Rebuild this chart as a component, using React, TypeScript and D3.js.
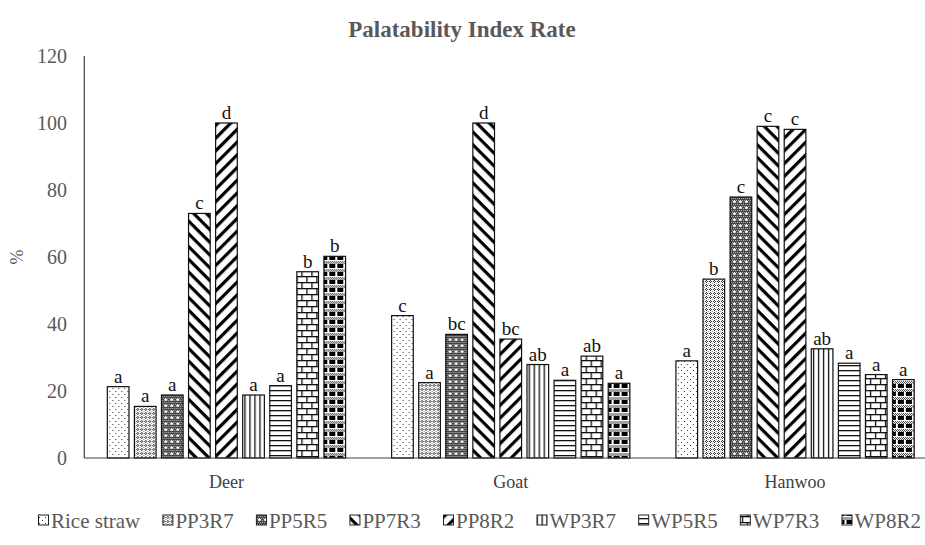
import React from "react";
import * as d3 from "d3";

const categories = ["Deer", "Goat", "Hanwoo"];
const seriesNames = ["Rice straw", "PP3R7", "PP5R5", "PP7R3", "PP8R2", "WP3R7", "WP5R5", "WP7R3", "WP8R2"];
const deerValues = [21.3, 15.4, 18.8, 73.0, 100.0, 18.8, 21.6, 55.6, 60.2];
const goatValues = [42.5, 22.5, 36.9, 100.0, 35.5, 27.9, 23.2, 30.4, 22.3];
const hanwooValues = [29.0, 53.4, 77.9, 99.0, 98.1, 32.6, 28.3, 24.9, 23.4];
const deerLetters = ["a", "a", "a", "c", "d", "a", "a", "b", "b"];
const goatLetters = ["c", "a", "bc", "d", "bc", "ab", "a", "ab", "a"];
const hanwooLetters = ["a", "b", "c", "c", "c", "ab", "a", "a", "a"];
const yTicks = [0, 20, 40, 60, 80, 100, 120];

const valuesByCat = [deerValues, goatValues, hanwooValues];
const lettersByCat = [deerLetters, goatLetters, hanwooLetters];

const W = 925;
const H = 545;
const FONT = "'Liberation Serif', 'Times New Roman', serif";
const GRAY = "#595959";

function measure(text: string, font: string): number {
  const c = document.createElement("canvas");
  const ctx = c.getContext("2d");
  if (!ctx) return text.length * 10;
  ctx.font = font;
  return ctx.measureText(text).width;
}

function Patterns() {
  return (
    <defs>
      <pattern id="p0" width="6" height="6" patternUnits="userSpaceOnUse">
        <rect width="6" height="6" fill="#fff" />
        <rect x="1" y="1" width="1" height="1" fill="#333" />
        <rect x="4" y="4" width="1" height="1" fill="#333" />
      </pattern>
      <pattern id="p1" width="4" height="4" patternUnits="userSpaceOnUse">
        <rect width="4" height="4" fill="#fff" />
        <rect x="1" y="0" width="1" height="1" fill="#222" />
        <rect x="0" y="1" width="1" height="1" fill="#222" />
        <rect x="2" y="1" width="1" height="1" fill="#222" />
        <rect x="1" y="2" width="1" height="1" fill="#222" />
        <rect x="3" y="3" width="1" height="1" fill="#888" />
      </pattern>
      <pattern id="p2" width="6" height="6" patternUnits="userSpaceOnUse">
        <rect width="6" height="6" fill="#444" />
        <rect x="0" y="0" width="1" height="1" fill="#bbb" />
        <rect x="2" y="0" width="1" height="1" fill="#bbb" />
        <rect x="4" y="0" width="1" height="1" fill="#bbb" />
        <rect x="1" y="2" width="1" height="1" fill="#bbb" />
        <rect x="5" y="2" width="1" height="1" fill="#bbb" />
        <rect x="0" y="4" width="1" height="1" fill="#bbb" />
        <rect x="2" y="4" width="1" height="1" fill="#bbb" />
        <rect x="3" y="2" width="1" height="1" fill="#fff" />
        <rect x="2" y="3" width="3" height="1" fill="#fff" />
        <rect x="3" y="4" width="1" height="1" fill="#fff" />
        <rect x="4" y="4" width="1" height="1" fill="#bbb" />
      </pattern>
      <pattern id="p3" width="9" height="9" patternUnits="userSpaceOnUse" patternTransform="rotate(45)">
        <rect width="9" height="9" fill="#fff" />
        <rect x="0" y="0" width="9" height="3.2" fill="#000" />
      </pattern>
      <pattern id="p4" width="9" height="9" patternUnits="userSpaceOnUse" patternTransform="rotate(-45)">
        <rect width="9" height="9" fill="#fff" />
        <rect x="0" y="0" width="9" height="3.2" fill="#000" />
      </pattern>
      <pattern id="p5" width="5" height="5" patternUnits="userSpaceOnUse">
        <rect width="5" height="5" fill="#fff" />
        <rect x="0" y="0" width="1.3" height="5" fill="#111" />
      </pattern>
      <pattern id="p6" width="5" height="5" patternUnits="userSpaceOnUse">
        <rect width="5" height="5" fill="#fff" />
        <rect x="0" y="0" width="5" height="1.3" fill="#111" />
      </pattern>
      <pattern id="p7" width="10" height="12" patternUnits="userSpaceOnUse">
        <rect width="10" height="12" fill="#fff" />
        <rect x="0" y="0" width="10" height="1.3" fill="#111" />
        <rect x="0" y="6" width="10" height="1.3" fill="#111" />
        <rect x="2" y="0" width="1.3" height="6" fill="#111" />
        <rect x="7" y="6" width="1.3" height="6" fill="#111" />
      </pattern>
      <pattern id="p8" width="8" height="8" patternUnits="userSpaceOnUse">
        <rect width="8" height="8" fill="#fff" />
        <rect x="0" y="0" width="3" height="4" fill="#000" />
        <rect x="5" y="0" width="3" height="4" fill="#000" />
        <rect x="0" y="5" width="1" height="1" fill="#444" />
        <rect x="2" y="5" width="1" height="1" fill="#444" />
        <rect x="4" y="5" width="1" height="1" fill="#444" />
        <rect x="6" y="5" width="1" height="1" fill="#444" />
        <rect x="1" y="6" width="1" height="1" fill="#444" />
        <rect x="3" y="6" width="1" height="1" fill="#444" />
        <rect x="5" y="6" width="1" height="1" fill="#444" />
        <rect x="7" y="6" width="1" height="1" fill="#444" />
        <rect x="0" y="7" width="1" height="1" fill="#444" />
        <rect x="2" y="7" width="1" height="1" fill="#444" />
        <rect x="4" y="7" width="1" height="1" fill="#444" />
        <rect x="6" y="7" width="1" height="1" fill="#444" />
      </pattern>
    </defs>
  );
}

export default function App() {
  const plotLeft = 84.3;
  const plotRight = 937.2;
  const plotTop = 56;
  const plotBottom = 458;

  const x0 = d3.scaleBand<string>().domain(categories).range([plotLeft, plotRight]).paddingInner(0).paddingOuter(0);
  const bw = x0.bandwidth();
  const outer = bw * 0.081;
  const x1 = d3.scaleBand<string>().domain(seriesNames).range([outer, bw - outer]).paddingInner(0.2).paddingOuter(0);
  const y = d3.scaleLinear().domain([0, 120]).range([plotBottom, plotTop]);

  const legendSize = 21;
  const legendFont = `${legendSize}px ${FONT}`;
  const boxW = 11;
  const legendLeft = 38;
  const legendRight = 921;
  const widths = seriesNames.map((s) => boxW + 2 + measure(s, legendFont));
  const totalW = d3.sum(widths);
  const gap = (legendRight - legendLeft - totalW) / (seriesNames.length - 1);
  const legendX: number[] = [];
  let acc = legendLeft;
  widths.forEach((w) => {
    legendX.push(acc);
    acc += w + gap;
  });
  const legendY = 528;

  return (
    <svg width={W} height={H} style={{ position: "fixed", left: 0, top: 0, background: "#fff" }} fontFamily={FONT}>
      <Patterns />
      <rect width={W} height={H} fill="#fff" />
      <text x={462} y={37} textAnchor="middle" fontSize={23} fontWeight="bold" fill={GRAY}>
        Palatability Index Rate
      </text>

      <line x1={plotLeft} x2={plotLeft} y1={y(120)} y2={y(0)} stroke="#404040" strokeWidth={1.2} />
      {yTicks.map((t) => (
        <text key={t} x={67} y={y(t) + 7} textAnchor="end" fontSize={20} fill={GRAY}>
          {t}
        </text>
      ))}
      <text transform={`translate(23, ${y(60)}) rotate(-90)`} textAnchor="middle" fontSize={18} fill={GRAY}>
        %
      </text>

      {categories.map((cat, ci) => (
        <g key={cat} transform={`translate(${x0(cat)},0)`}>
          {seriesNames.map((s, si) => {
            const v = valuesByCat[ci][si];
            const bx = x1(s) as number;
            return (
              <g key={s}>
                <rect
                  x={bx}
                  y={y(v)}
                  width={x1.bandwidth()}
                  height={y(0) - y(v)}
                  fill={`url(#p${si})`}
                  stroke="#111"
                  strokeWidth={1.2}
                />
                <text x={bx + x1.bandwidth() / 2} y={y(v) - 4} textAnchor="middle" fontSize={19} fill="#111">
                  {lettersByCat[ci][si]}
                </text>
              </g>
            );
          })}
          <text x={bw / 2} y={488} textAnchor="middle" fontSize={18} fill="#404040">
            {cat}
          </text>
        </g>
      ))}

      <line x1={plotLeft} x2={W} y1={y(0)} y2={y(0)} stroke="#404040" strokeWidth={1.2} />

      {seriesNames.map((s, si) => (
        <g key={s} transform={`translate(${legendX[si]},${legendY})`}>
          <rect x={0.5} y={-13} width={boxW - 1} height={boxW - 1} fill={`url(#p${si})`} stroke="#222" strokeWidth={1} />
          <text x={boxW + 2} y={0} fontSize={legendSize} fill={GRAY}>
            {s}
          </text>
        </g>
      ))}
    </svg>
  );
}
